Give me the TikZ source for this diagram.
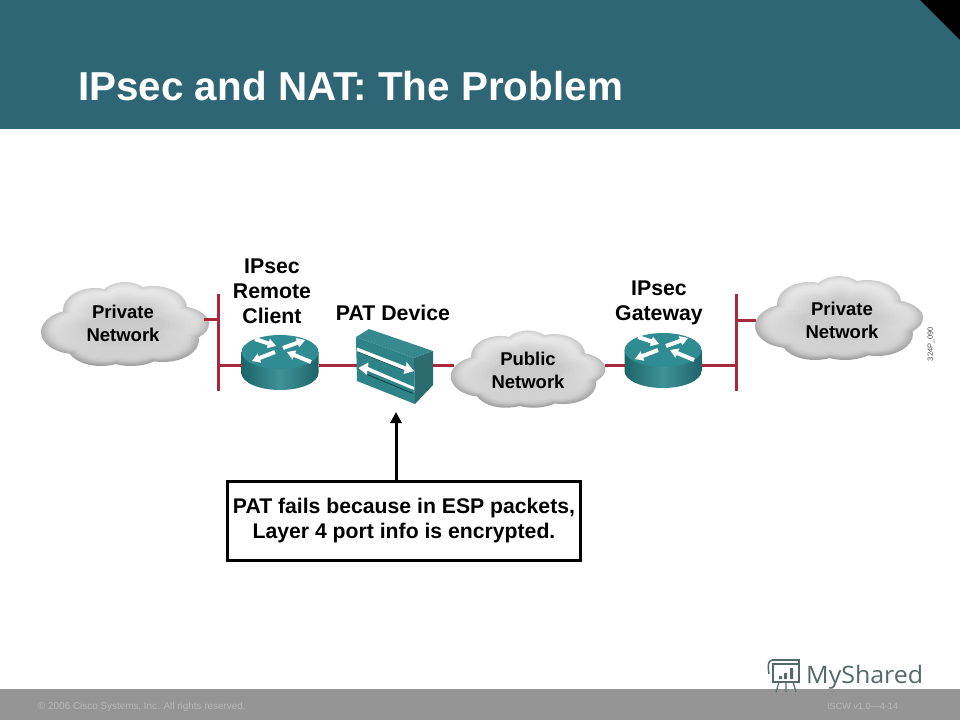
\documentclass[tikz,border=0pt]{standalone}
\usepackage{fontspec}
\setmainfont{Liberation Sans}
\newfontfamily\logofont{Open Sans}
\usetikzlibrary{arrows.meta,calc}
\definecolor{headbar}{HTML}{2F6675}
\definecolor{footbar}{HTML}{959595}
\definecolor{footink}{HTML}{B8B8B8}
\definecolor{linkred}{HTML}{A8283C}
\definecolor{tealtop}{HTML}{2F8C92}
\definecolor{tealmid}{HTML}{3F9298}
\definecolor{tealdark}{HTML}{1C6469}
\definecolor{tealside}{HTML}{2C6C70}
\definecolor{tealfront}{HTML}{2E8389}
\definecolor{tealup}{HTML}{35898F}
\definecolor{logoink}{HTML}{566868}
\newcommand{\cloudlobes}{
  (-50,8) ellipse (34 and 22) (-30,-14) ellipse (32 and 22) (0,-24) ellipse (26 and 18)
  (28,-16) ellipse (34 and 22) (52,0) ellipse (32 and 18) (68,-2) ellipse (16 and 9)
  (38,16) ellipse (36 and 22) (6,22) ellipse (36 and 20) (-24,22) ellipse (34 and 20)
  (0,0) ellipse (50 and 26)}
\newcommand{\netcloud}[4]{% name, x, y, scale
  \coordinate (#1) at (#2,#3);
  \begin{scope}[shift={(#2,#3)},scale=#4]
    \foreach \s/\t/\b in {1/18/38,.98/16/35,.96/14/32,.94/12/29,.92/11/26,.90/10/23,.88/9/21,.85/9/19,.81/10/18,.77/11/18,.72/13/18,.66/15/18,.6/17/18,.54/19/19,.48/21/20}{
      \begin{scope}[scale=\s,shift={(0,-1)}]
        \shade[top color=black!\t,bottom color=black!\b] \cloudlobes;
      \end{scope}}
  \end{scope}}
\newcommand{\routerarrow}[2]{%
  \fill[white] ($(#1)!2pt!90:(#2)$) -- ($(#2)!8pt!(#1)!2pt!90:(#2)$)
    -- ($(#2)!8pt!(#1)!5pt!90:(#2)$) -- (#2) -- ($(#2)!8pt!(#1)!-5pt!90:(#2)$)
    -- ($(#2)!8pt!(#1)!-2pt!90:(#2)$) -- ($(#1)!-2pt!90:(#2)$) -- cycle;}
\newcommand{\router}[4]{% name, x, y of top-ellipse centre, link offset
  \begin{scope}[shift={(#2,#3)}]
    \shade[left color=tealdark,right color=tealdark,middle color=tealmid]
      (-38.5,0) -- (-38.5,21) arc[start angle=180,end angle=0,x radius=38.5,y radius=17] -- (38.5,0) -- cycle;
    \fill[tealtop] (0,0) ellipse (38.5 and 17);
    \coordinate (#1-w) at (-38.5,#4);
    \coordinate (#1-e) at (38.5,#4);
    \coordinate (a1) at (-25,-13); \coordinate (b1) at (-4,-6);
    \coordinate (a2) at (3,-4);    \coordinate (b2) at (25,-12);
    \coordinate (a3) at (-5,0);    \coordinate (b3) at (-28,9);
    \coordinate (a4) at (31,10);   \coordinate (b4) at (7,0);
    \routerarrow{a1}{b1}\routerarrow{a2}{b2}\routerarrow{a3}{b3}\routerarrow{a4}{b4}
  \end{scope}}
\tikzset{
  x=1pt,y=-1pt,
  link/.style={draw=linkred,line width=3pt},
  lbl/.style={font=\fontsize{21.3}{25}\selectfont\bfseries,align=center,text=black,inner sep=0pt},
  cloudlbl/.style={font=\fontsize{18.5}{23}\selectfont\bfseries,align=center,text=black,inner sep=0pt},
  foot/.style={text=footink,inner sep=0pt,anchor=west}
}
\begin{document}
\begin{tikzpicture}
\useasboundingbox (0,0) rectangle (960,720);
\fill[white] (0,0) rectangle (960,720);
% header
\fill[headbar] (0,0) rectangle (960,129);
\fill[black] (920,0) -- (960,0) -- (960,40) -- cycle;
\node[font=\fontsize{40.4}{48}\selectfont\bfseries,text=white,anchor=west,inner sep=0pt] (title) at (78,86) {IPsec and NAT: The Problem};
% footer
\fill[footbar] (0,689) rectangle (960,720);
\node[foot,font=\fontsize{9.9}{12}\selectfont] (copy) at (38,706.5) {© 2006 Cisco Systems, Inc. All rights reserved.};
\node[foot,font=\fontsize{9.1}{12}\selectfont] (ver) at (827,706.5) {ISCW v1.0—4-14};
% logo
\begin{scope}[draw=logoink,line width=1.5pt]
  \draw (772,660) -- (799,660) -- (799,664) -- (772,664);
  \draw (772,660) .. controls (767,661) and (768,668) .. (769,674);
  \draw (773,664) -- (773,682) -- (799,682) -- (799,664);
  \fill[logoink] (779,676) rectangle (782,679) (784,673) rectangle (787,679) (790,668) rectangle (793,679);
  \draw[line width=1.2pt] (779,682) -- (776,692) (786,682) -- (786,692) (793,682) -- (796,692);
\end{scope}
\node[font=\fontsize{24}{28}\selectfont,text=logoink,anchor=base west,inner sep=0pt,xscale=1.04] (logo) at (806,683) {\logofont MyShared};
% clouds and routers
\netcloud{cloudL}{125}{325}{1}
\netcloud{cloudM}{528}{370}{.92}
\netcloud{cloudR}{839}{319}{1}
\router{routerA}{280}{352}{13}
\router{routerB}{663}{350}{15}
% bars and links
\coordinate (barLt) at (218,294); \coordinate (barLb) at (218,391);
\coordinate (barRt) at (736,294); \coordinate (barRb) at (736,391);
\coordinate (barLs) at (218,319); \coordinate (barLr) at (218,365);
\coordinate (barRs) at (736,320); \coordinate (barRr) at (736,365);
\coordinate (stubL) at (204,319); \coordinate (stubR) at (756,320);
\coordinate (midW) at (454,365); \coordinate (midE) at (605,365);
\coordinate (patW) at (357,365); \coordinate (patE) at (431,365);
\draw[link] (barLt) -- (barLb);
\draw[link] (barRt) -- (barRb);
\draw[link] (stubL) -- (barLs);
\draw[link] (barRs) -- (stubR);
\draw[link] (barLr) -- (routerA-w);
\draw[link] (routerA-e) -- (patW);
\draw[link] (patE) -- (midW);
\draw[link] (midE) -- (routerB-w);
\draw[link] (routerB-e) -- (barRr);
% PAT device
\coordinate (pA) at (356,337); \coordinate (pB) at (369,329); \coordinate (pC) at (433,351);
\coordinate (pD) at (414,358); \coordinate (pE) at (433,385); \coordinate (pF) at (415,404);
\coordinate (pG) at (357,381);
\fill[tealup] (pA) -- (pB) -- (pC) -- (pD) -- cycle;
\fill[tealfront] (pA) -- (pD) -- (pF) -- (pG) -- cycle;
\fill[tealside] (pD) -- (pC) -- (pE) -- (pF) -- cycle;
\draw[black!40!tealdark,line width=.8pt] (358,351.5) -- (404,370);
\draw[black!40!tealdark,line width=.8pt] (413,393.5) -- (366,374);
\fill[white] (357,347.5) -- (406,366.5) -- (406.5,362) -- (414,371) -- (403.5,374) -- (404.5,370) -- (357,351) -- cycle;
\fill[white] (414,390) -- (367,370.5) -- (367,375) -- (358.5,368) -- (368.5,362.5) -- (368,367) -- (414,387) -- cycle;
% labels
\node[lbl] (lblClient) at (272,291) {IPsec\\Remote\\Client};
\node[lbl] (lblPat) at (393,313) {PAT Device};
\node[lbl] (lblGw) at (659,303) {IPsec\\Gateway};
\node[cloudlbl] (lblL) at (123,323) {Private\\Network};
\node[cloudlbl] (lblM) at (528,370) {Public\\Network};
\node[cloudlbl] (lblR) at (842,320) {Private\\Network};
\node[rotate=90,font=\fontsize{7.5}{9}\selectfont,text=black!70,inner sep=0pt] (code) at (931,344) {324P\_090};
% callout
\node[draw=black,line width=3pt,minimum width=353pt,minimum height=79pt,inner sep=0pt,anchor=north west] (note) at (226,480) {};
\node[font=\fontsize{21.2}{25}\selectfont\bfseries,text=black,align=center,inner sep=0pt] (noteText) at (404,521) {PAT fails because in ESP packets,\\Layer 4 port info is encrypted.};
\coordinate (patFoot) at (396,412);
\draw[line width=3pt,-{Triangle[length=11pt,width=11pt]}] (note.north -| patFoot) -- (patFoot);
\end{tikzpicture}
\end{document}
